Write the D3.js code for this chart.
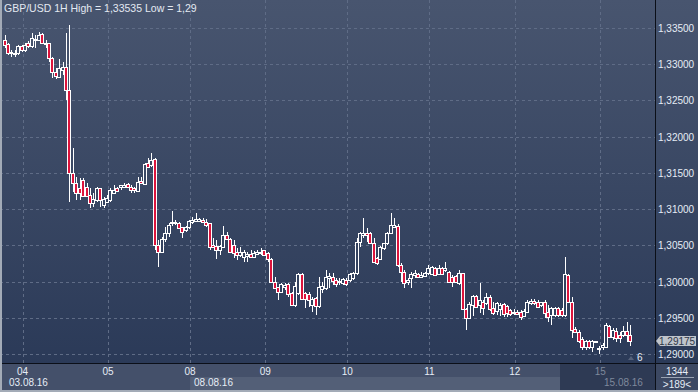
<!DOCTYPE html>
<html>
<head>
<meta charset="utf-8">
<script src="https://cdn.jsdelivr.net/npm/d3@7/dist/d3.min.js"></script>
<style>
  html, body { margin: 0; padding: 0; background: #2b3a57; }
  svg { display: block; font-family: "Liberation Sans", Arial, sans-serif; }
</style>
</head>
<body>
<svg id="chart" width="698" height="392"></svg>
<script>
// GBP/USD hourly candles, 03.08.16 evening -> 15.08.16 morning
var opens = [1.33333,1.33278,1.33154,1.3314,1.33154,1.3325,1.33195,1.33292,1.3325,1.33333,
  1.33333,1.33416,1.33292,1.33288,1.33081,1.32896,1.32827,1.32919,1.32965,1.32643,
  1.31502,1.31364,1.31287,1.31401,1.31309,1.31194,1.3108,1.31125,1.31287,1.31056,
  1.31102,1.31125,1.31226,1.31287,1.31309,1.313,1.31342,1.31309,1.31287,1.31254,
  1.31387,1.31346,1.3164,1.31608,1.31687,1.30504,1.30412,1.30583,1.30674,1.30804,
  1.30815,1.30804,1.30749,1.30711,1.30749,1.30817,1.30835,1.3084,1.30849,1.30826,
  1.30804,1.30504,1.3049,1.30435,1.30481,1.30638,1.30583,1.305,1.30403,1.30366,
  1.30343,1.30357,1.30376,1.30343,1.30384,1.30394,1.30431,1.3039,1.30307,1.29998,
  1.2992,1.2986,1.29929,1.29962,1.29838,1.29676,1.29838,1.301,1.29838,1.29824,
  1.29676,1.29769,1.29667,1.29897,1.29907,1.30053,1.30067,1.30021,1.29989,1.29976,
  1.30021,1.30021,1.30045,1.30114,1.30546,1.30642,1.30666,1.30666,1.30528,1.30321,
  1.30307,1.30459,1.30528,1.30666,1.30757,1.30766,1.30228,1.30136,1.29998,1.30045,
  1.3009,1.30104,1.30067,1.30076,1.30114,1.30104,1.30183,1.30104,1.30183,1.30159,
  1.30136,1.30067,1.30076,1.29976,1.30114,1.29617,1.29493,1.29676,1.298,1.29676,
  1.29722,1.297,1.29791,1.29639,1.29593,1.29617,1.2969,1.29662,1.29607,1.29562,
  1.2958,1.29584,1.29524,1.29584,1.297,1.29727,1.29722,1.29676,1.29722,1.29584,
  1.29538,1.29538,1.29631,1.29607,1.29538,1.3009,1.29722,1.29341,1.29308,1.29203,
  1.29101,1.29184,1.29101,1.29184,1.29065,1.29101,1.29101,1.29386,1.29239,1.29317,
  1.29262,1.29262,1.29317,1.29262];
var highs = [1.33402,1.33292,1.33195,1.33195,1.33264,1.33264,1.33292,1.33319,1.3343,1.33402,
  1.33444,1.33434,1.33333,1.3329,1.33094,1.32943,1.33067,1.33034,1.3343,1.33535,
  1.31839,1.31447,1.31425,1.31425,1.31356,1.31287,1.31218,1.31309,1.31295,1.31171,
  1.31194,1.31287,1.31332,1.31309,1.31332,1.31356,1.31356,1.31332,1.31309,1.31447,
  1.31447,1.31632,1.31701,1.3177,1.31705,1.30573,1.30619,1.30757,1.30804,1.30973,
  1.30849,1.30826,1.30757,1.30766,1.30849,1.30886,1.30942,1.30873,1.30873,1.30859,
  1.30812,1.30597,1.30573,1.30504,1.30766,1.30688,1.30597,1.30573,1.30459,1.30481,
  1.30435,1.30412,1.30435,1.30421,1.30435,1.30467,1.30435,1.30412,1.30321,1.30067,
  1.29929,1.29976,1.29976,1.29976,1.2986,1.29998,1.30114,1.30114,1.2986,1.2986,
  1.29791,1.29791,1.30067,1.29998,1.30159,1.30114,1.30114,1.30045,1.30053,1.30053,
  1.30045,1.30114,1.30136,1.30601,1.30688,1.30873,1.30735,1.30688,1.30597,1.30343,
  1.3049,1.30536,1.30688,1.30942,1.30873,1.30794,1.30252,1.30159,1.30045,1.30136,
  1.30159,1.30114,1.30136,1.30136,1.30228,1.30219,1.30205,1.30228,1.30205,1.30274,
  1.3015,1.3009,1.3009,1.30159,1.30122,1.29631,1.29722,1.29814,1.29814,1.29976,
  1.29745,1.29838,1.29814,1.29722,1.29722,1.29708,1.29708,1.29676,1.29617,1.29617,
  1.29607,1.29607,1.29617,1.29745,1.29755,1.29755,1.29745,1.29722,1.29745,1.29676,
  1.29653,1.29653,1.29653,1.29631,1.30343,1.30104,1.29791,1.29377,1.29331,1.2923,
  1.29193,1.29193,1.29193,1.29186,1.2911,1.29148,1.29424,1.294,1.29355,1.29355,
  1.29308,1.29386,1.29446,1.294];
var lows = [1.33223,1.33126,1.33099,1.33099,1.33126,1.33168,1.33168,1.33223,1.33223,1.33223,
  1.33319,1.33288,1.33223,1.33034,1.32805,1.32791,1.32805,1.3285,1.32505,1.31102,
  1.3124,1.31125,1.31125,1.31171,1.31171,1.31011,1.31033,1.31102,1.31033,1.31011,
  1.3108,1.31102,1.31218,1.3124,1.31263,1.31287,1.31287,1.31218,1.31218,1.3124,
  1.31356,1.31332,1.31563,1.31585,1.30435,1.30205,1.3039,1.3055,1.30619,1.30766,
  1.3078,1.30735,1.30597,1.30688,1.30721,1.30794,1.30826,1.30826,1.30804,1.30757,
  1.30435,1.30459,1.30307,1.30366,1.30481,1.30573,1.3039,1.30321,1.30297,1.30343,
  1.30274,1.30274,1.30334,1.30321,1.30366,1.30366,1.30357,1.30274,1.29994,1.29897,
  1.29745,1.29838,1.29883,1.29791,1.29667,1.29653,1.29814,1.29745,1.29631,1.29653,
  1.29584,1.29538,1.29631,1.29838,1.29883,1.29907,1.29952,1.29929,1.29952,1.29952,
  1.29938,1.29998,1.30021,1.3009,1.30481,1.30597,1.3055,1.30528,1.30252,1.30228,
  1.30297,1.30435,1.30504,1.30656,1.30757,1.30205,1.29998,1.29907,1.29952,1.29907,
  1.30045,1.30045,1.30058,1.30067,1.3009,1.3009,1.30076,1.30086,1.3009,1.30136,
  1.29976,1.2992,1.29984,1.29952,1.29607,1.29331,1.29479,1.29524,1.29631,1.29562,
  1.29538,1.29676,1.29598,1.29538,1.29538,1.29524,1.29515,1.29515,1.29529,1.29538,
  1.29538,1.29469,1.29515,1.29562,1.29676,1.29676,1.29631,1.29653,1.29493,1.29446,
  1.294,1.29515,1.29515,1.29515,1.29515,1.297,1.29217,1.29286,1.29148,1.29055,
  1.29055,1.29065,1.29032,1.29179,1.29,1.29055,1.29079,1.29217,1.29193,1.2917,
  1.29156,1.29239,1.2917,1.2911];
var closes = [1.33264,1.33154,1.33168,1.33154,1.3325,1.33195,1.33264,1.3325,1.33361,1.33354,
  1.33402,1.3329,1.33278,1.33081,1.32896,1.32836,1.32943,1.32965,1.32643,1.31494,
  1.31356,1.31218,1.31218,1.3118,1.3118,1.3108,1.31135,1.31287,1.31125,1.31139,
  1.31149,1.31263,1.31263,1.31254,1.31332,1.31332,1.31309,1.31263,1.31263,1.31378,
  1.31364,1.31622,1.31585,1.31677,1.30504,1.30412,1.30583,1.30674,1.3078,1.30826,
  1.30826,1.30735,1.30688,1.30749,1.30831,1.30849,1.30863,1.30859,1.30826,1.3078,
  1.30481,1.30481,1.30435,1.3049,1.30642,1.30583,1.30412,1.3039,1.30366,1.30412,
  1.30403,1.30376,1.30343,1.3039,1.30403,1.30412,1.30366,1.30307,1.29998,1.29915,
  1.2986,1.29962,1.29952,1.29824,1.29676,1.29938,1.301,1.29759,1.29759,1.29745,
  1.29759,1.29667,1.29929,1.29943,1.30067,1.30081,1.30007,1.29962,1.30007,1.30035,
  1.29962,1.301,1.30114,1.30546,1.3067,1.30666,1.30642,1.30536,1.30274,1.3026,
  1.30481,1.30528,1.30666,1.3078,1.3078,1.30228,1.30136,1.29976,1.30021,1.30104,
  1.30122,1.30058,1.3009,1.30114,1.30183,1.30205,1.3009,1.30183,1.30104,1.30183,
  1.29998,1.29998,1.29998,1.30114,1.29617,1.29501,1.2969,1.298,1.29653,1.29745,
  1.29631,1.29791,1.29617,1.2957,1.297,1.29676,1.29552,1.29562,1.29552,1.29584,
  1.29559,1.29515,1.29593,1.29722,1.29731,1.29704,1.29653,1.29722,1.2957,1.29515,
  1.29631,1.29631,1.29538,1.29538,1.30104,1.29722,1.29331,1.29308,1.29184,1.29092,
  1.29184,1.29101,1.29184,1.29184,1.29083,1.29124,1.294,1.2923,1.29331,1.29217,
  1.29217,1.29317,1.29262,1.29175];

var priceTicks = [1.29, 1.295, 1.30, 1.305, 1.31, 1.315, 1.32, 1.325, 1.33, 1.335];
var dayIndex = [5, 30, 54, 76, 100, 124, 149, 174];
var dayLabels = ["04", "05", "08", "09", "10", "11", "12", "15"];
var dateLabels = ["03.08.16", "08.08.16", "15.08.16"];
var lastPrice = 1.29175;

var W = 698, H = 392;
var plotRight = 655, plotBottom = 363;

var svg = d3.select("#chart");
var n = closes.length;

var x = d3.scaleLinear().domain([0, n - 1]).range([5.5, 631]);
var y = d3.scaleLinear().domain([1.29, 1.335]).range([354, 28]);
var fmt = function(v){ return d3.format(".5f")(v).replace(".", ","); };

// backgrounds (gradient in user space so hollow candle bodies match it)
var defs = svg.append("defs");
var grad = defs.append("linearGradient").attr("id", "bg")
    .attr("gradientUnits", "userSpaceOnUse")
    .attr("x1", 0).attr("y1", 0).attr("x2", 0).attr("y2", plotBottom);
grad.append("stop").attr("offset", "0%").attr("stop-color", "#48556f");
grad.append("stop").attr("offset", "100%").attr("stop-color", "#2b3a58");

svg.append("rect").attr("x", 0).attr("y", 0).attr("width", W).attr("height", plotBottom)
    .attr("fill", "url(#bg)");
svg.append("rect").attr("x", 0).attr("y", plotBottom).attr("width", W).attr("height", H - plotBottom)
    .attr("fill", "#44506a");
svg.append("rect").attr("x", x(dayIndex[2])).attr("y", 377).attr("width", 560 - x(dayIndex[2])).attr("height", 15)
    .attr("fill", "#535f77");
svg.append("rect").attr("x", 560).attr("y", plotBottom).attr("width", plotRight - 560).attr("height", H - plotBottom)
    .attr("fill", "#2e3a54");
svg.append("rect").attr("x", plotRight).attr("y", plotBottom).attr("width", W - plotRight).attr("height", H - plotBottom)
    .attr("fill", "#3c4862");

// grid
var grid = svg.append("g").attr("class", "grid")
    .attr("stroke", "#5f6c86").attr("stroke-width", 1).attr("stroke-dasharray", "3,3");
grid.selectAll("line.h").data(priceTicks).enter().append("line")
    .attr("x1", 0).attr("x2", plotRight)
    .attr("y1", function(d){ return Math.round(y(d)) + 0.5; })
    .attr("y2", function(d){ return Math.round(y(d)) + 0.5; });
grid.selectAll("line.v").data(dayIndex).enter().append("line")
    .attr("y1", 0).attr("y2", plotBottom)
    .attr("x1", function(d){ return Math.round(x(d)) + 0.5; })
    .attr("x2", function(d){ return Math.round(x(d)) + 0.5; });

// candles
var candles = svg.append("g").attr("class", "candles");
var c = candles.selectAll("g").data(d3.range(n)).enter().append("g");
c.append("line")
    .attr("x1", function(i){ return Math.round(x(i)) - 0.5; })
    .attr("x2", function(i){ return Math.round(x(i)) - 0.5; })
    .attr("y1", function(i){ return Math.round(y(highs[i])); })
    .attr("y2", function(i){ return Math.round(y(lows[i])); })
    .attr("stroke", "#ffffff").attr("stroke-width", 1);
c.append("rect")
    .attr("x", function(i){ return Math.round(x(i)) - 2.5; })
    .attr("width", 3)
    .attr("y", function(i){ return Math.round(y(Math.max(opens[i], closes[i]))) + 0.5; })
    .attr("height", function(i){
        var h = Math.round(y(Math.min(opens[i], closes[i]))) - Math.round(y(Math.max(opens[i], closes[i])));
        return Math.max(h, 1);
    })
    .attr("fill", function(i){ return closes[i] < opens[i] ? "#dc143c" : "url(#bg)"; })
    .attr("stroke", "#ffffff").attr("stroke-width", 1);

// separators and frame
svg.append("line").attr("x1", plotRight + 0.5).attr("x2", plotRight + 0.5).attr("y1", 0).attr("y2", H)
    .attr("stroke", "#0b0f18").attr("stroke-width", 1);
svg.append("line").attr("x1", 0).attr("x2", W).attr("y1", plotBottom + 0.5).attr("y2", plotBottom + 0.5)
    .attr("stroke", "#0b0f18").attr("stroke-width", 1);
svg.append("rect").attr("x", 0).attr("y", 0).attr("width", 2).attr("height", H).attr("fill", "#a3abb7");
svg.append("rect").attr("x", 0).attr("y", H - 2).attr("width", W).attr("height", 2).attr("fill", "#a3abb7");

// title
svg.append("text").attr("x", 4).attr("y", 12)
    .attr("font-size", "10.5px").attr("fill", "#e3e9f2")
    .text("GBP/USD 1H High = 1,33535 Low = 1,29");

// price axis labels
svg.selectAll("text.ylab").data(priceTicks).enter().append("text")
    .attr("class", "ylab")
    .attr("x", 658).attr("y", function(d){ return Math.round(y(d)) + 4; })
    .attr("font-size", "10px").attr("fill", "#e6edf6")
    .text(function(d){ return fmt(d); });

// last price tag
var ty = Math.round(y(lastPrice));
svg.append("path")
    .attr("d", "M656," + ty + " L660," + (ty - 5) + " L696," + (ty - 5) + " L696," + (ty + 5) + " L660," + (ty + 5) + " Z")
    .attr("fill", "#bfc4cb");
svg.append("text").attr("x", 659).attr("y", ty + 4)
    .attr("font-size", "10px").attr("fill", "#2f3747")
    .text(fmt(lastPrice));

// day labels
svg.selectAll("text.day").data(dayIndex).enter().append("text")
    .attr("class", "day")
    .attr("x", function(d){ return x(d); }).attr("y", 375)
    .attr("text-anchor", "middle").attr("font-size", "10px")
    .attr("fill", function(d, i){ return i == dayIndex.length - 1 ? "#7f899c" : "#e6edf6"; })
    .text(function(d, i){ return dayLabels[i]; });
svg.append("text").attr("x", 9).attr("y", 386).attr("font-size", "10px").attr("fill", "#e6edf6")
    .text(dateLabels[0]);
svg.append("text").attr("x", x(dayIndex[2]) + 4).attr("y", 386).attr("font-size", "10px").attr("fill", "#e6edf6")
    .text(dateLabels[1]);
svg.append("text").attr("x", 604).attr("y", 386).attr("font-size", "10px").attr("fill", "#7f899c")
    .text(dateLabels[2]);

// small marker "6"
svg.append("path").attr("d", "M628,360 L631,356 L634,360 Z").attr("fill", "#56627b");
svg.append("text").attr("x", 637).attr("y", 361).attr("font-size", "10px").attr("fill", "#e6edf6").text("6");

// bar count box
svg.append("text").attr("x", 677).attr("y", 375).attr("text-anchor", "middle")
    .attr("font-size", "10px").attr("fill", "#e6edf6").text("1344");
svg.append("line").attr("x1", 661).attr("x2", 694).attr("y1", 377.5).attr("y2", 377.5)
    .attr("stroke", "#9aa3b3").attr("stroke-width", 1);
svg.append("text").attr("x", 677).attr("y", 388).attr("text-anchor", "middle")
    .attr("font-size", "10px").attr("fill", "#e6edf6").text(">189<");
</script>
</body>
</html>
